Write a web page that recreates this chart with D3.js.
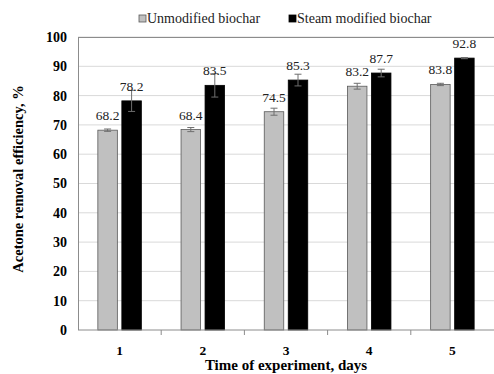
<!DOCTYPE html>
<html>
<head>
<meta charset="utf-8">
<script src="https://cdn.jsdelivr.net/npm/d3@7"></script>
<style>
  body { margin: 0; background: #fff; }
  svg { display: block; font-family: "Liberation Serif", "Times New Roman", serif; }
</style>
</head>
<body>
<div id="chart"></div>
<script>
// Chart data
var days = ["1", "2", "3", "4", "5"];
var seriesNames = ["Unmodified biochar", "Steam modified biochar"];
var unmodified = [68.2, 68.4, 74.5, 83.2, 83.8];
var steam = [78.2, 83.5, 85.3, 87.7, 92.8];
var unmodifiedErr = [0.4, 0.7, 1.2, 1.0, 0.4];
var steamErr = [3.6, 4.0, 2.0, 1.3, 0.2];
var yTicks = [0, 10, 20, 30, 40, 50, 60, 70, 80, 90, 100];

var fills = ["#c0c0c0", "#000000"];

// Chart variables
var W = 494, H = 374;
var margin = {top: 37, right: 0, bottom: 44, left: 78};
var width = W - margin.left - margin.right;
var height = H - margin.top - margin.bottom;

var svg = d3.select("#chart").append("svg")
    .attr("width", W)
    .attr("height", H);

var g = svg.append("g")
    .attr("transform", "translate(" + margin.left + "," + margin.top + ")");

// Scales
var x = d3.scaleBand().domain(days).range([0, width]).padding(0);
var y = d3.scaleLinear().domain([0, 100]).range([height, 0]);

var barW = 19.5, gap = 4.5;

// Gridlines
g.selectAll(".grid")
    .data(yTicks.filter(function(t) { return t > 0; }))
    .enter().append("line")
    .attr("x1", 0).attr("x2", width)
    .attr("y1", function(d) { return y(d); })
    .attr("y2", function(d) { return y(d); })
    .attr("stroke", "#d9d9d9")
    .attr("stroke-width", 1);

// Plot border top
g.append("line")
    .attr("x1", 0).attr("x2", width)
    .attr("y1", 0.5).attr("y2", 0.5)
    .attr("stroke", "#8c8c8c");

// Bars
var rows = days.map(function(d, i) {
    return [
        {day: d, s: 0, v: unmodified[i], e: unmodifiedErr[i]},
        {day: d, s: 1, v: steam[i], e: steamErr[i]}
    ];
});
var flat = [].concat.apply([], rows);

function barX(d) {
    var c = x(d.day) + x.bandwidth() / 2;
    return d.s === 0 ? c - gap / 2 - barW : c + gap / 2;
}

g.selectAll(".bar")
    .data(flat)
    .enter().append("rect")
    .attr("x", barX)
    .attr("y", function(d) { return y(d.v); })
    .attr("width", barW)
    .attr("height", function(d) { return height - y(d.v); })
    .attr("fill", function(d) { return fills[d.s]; })
    .attr("stroke", function(d) { return d.s === 0 ? "#5a5a5a" : "#000"; })
    .attr("stroke-width", 0.8);

// Error bars
var eb = g.selectAll(".err").data(flat).enter().append("g")
    .attr("stroke", "#6e6e6e")
    .attr("stroke-width", 1);
eb.append("line")
    .attr("x1", function(d) { return barX(d) + barW / 2; })
    .attr("x2", function(d) { return barX(d) + barW / 2; })
    .attr("y1", function(d) { return y(d.v + d.e); })
    .attr("y2", function(d) { return y(d.v - d.e); });
eb.selectAll(".cap")
    .data(function(d) { return [{d: d, v: d.v + d.e}, {d: d, v: d.v - d.e}]; })
    .enter().append("line")
    .attr("x1", function(c) { return barX(c.d) + barW / 2 - 3.5; })
    .attr("x2", function(c) { return barX(c.d) + barW / 2 + 3.5; })
    .attr("y1", function(c) { return y(c.v); })
    .attr("y2", function(c) { return y(c.v); });

// Value labels
g.selectAll(".val")
    .data(flat)
    .enter().append("text")
    .attr("x", function(d) { return barX(d) + barW / 2; })
    .attr("y", function(d) { return y(d.v) - 10; })
    .attr("text-anchor", "middle")
    .attr("font-size", "13.5px")
    .attr("fill", "#222")
    .text(function(d) { return d.v.toFixed(1); });

// Axes
var xAxis = g.append("g")
    .attr("transform", "translate(0," + height + ")");
xAxis.append("line")
    .attr("x1", 0).attr("x2", width)
    .attr("stroke", "#8c8c8c");
xAxis.selectAll(".tk")
    .data(days.slice(1))
    .enter().append("line")
    .attr("x1", function(d) { return x(d); })
    .attr("x2", function(d) { return x(d); })
    .attr("y1", 0).attr("y2", 5)
    .attr("stroke", "#8c8c8c");
xAxis.selectAll(".lbl")
    .data(days)
    .enter().append("text")
    .attr("x", function(d) { return x(d) + x.bandwidth() / 2; })
    .attr("y", 25)
    .attr("text-anchor", "middle")
    .attr("font-size", "13.5px")
    .attr("font-weight", "bold")
    .text(function(d) { return d; });

var yAxis = g.append("g");
yAxis.append("line")
    .attr("x1", 0.5).attr("x2", 0.5)
    .attr("y1", 0).attr("y2", height)
    .attr("stroke", "#8c8c8c");
yAxis.selectAll(".lbl")
    .data(yTicks)
    .enter().append("text")
    .attr("x", -11)
    .attr("y", function(d) { return y(d); })
    .attr("dy", "0.35em")
    .attr("text-anchor", "end")
    .attr("font-size", "14px")
    .attr("font-weight", "bold")
    .text(function(d) { return d; });

// Axis titles
svg.append("text")
    .attr("x", margin.left + width / 2)
    .attr("y", 370)
    .attr("text-anchor", "middle")
    .attr("font-size", "15px")
    .attr("font-weight", "bold")
    .text("Time of experiment, days");

svg.append("text")
    .attr("transform", "translate(23,179) rotate(-90)")
    .attr("text-anchor", "middle")
    .attr("font-size", "14.5px")
    .attr("font-weight", "bold")
    .text("Acetone removal efficiency, %");

// Legend
var legX = [139, 289];
var leg = svg.selectAll(".leg")
    .data(seriesNames)
    .enter().append("g")
    .attr("transform", function(d, i) { return "translate(" + legX[i] + ",15)"; });
leg.append("rect")
    .attr("width", 7).attr("height", 7)
    .attr("fill", function(d, i) { return fills[i]; })
    .attr("stroke", function(d, i) { return i === 0 ? "#5a5a5a" : "#000"; })
    .attr("stroke-width", 0.8);
leg.append("text")
    .attr("x", 8)
    .attr("y", 8)
    .attr("font-size", "14px")
    .attr("fill", "#222")
    .text(function(d) { return d; });
</script>
</body>
</html>
